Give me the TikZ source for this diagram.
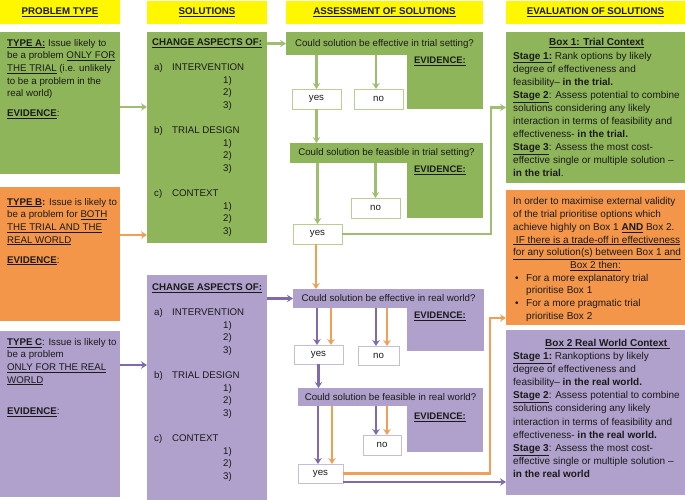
\documentclass[tikz,border=0pt]{standalone}
\usepackage{fontspec}
\setmainfont{Liberation Sans}
\usetikzlibrary{arrows.meta}
\definecolor{cgreen}{HTML}{8FB55A}
\definecolor{corange}{HTML}{F4964A}
\definecolor{cpurple}{HTML}{AFA1CB}
\definecolor{cyellow}{HTML}{FFF700}
\definecolor{garrow}{HTML}{9FBE72}
\definecolor{oarrow}{HTML}{F0A056}
\definecolor{parrow}{HTML}{7F6AAE}
\definecolor{gline}{HTML}{B7CF93}
\definecolor{pline}{HTML}{C6BCDB}
\definecolor{txt}{HTML}{1A1A1A}
\tikzset{
  box/.style={rectangle, inner sep=0pt, outer sep=0pt, anchor=north west},
  gbox/.style={box, fill=cgreen},
  obox/.style={box, fill=corange},
  pbox/.style={box, fill=cpurple},
  hbox/.style={box, fill=cyellow, font=\bfseries\fontsize{9.7}{12}\selectfont},
  qtxt/.style={font=\fontsize{9.7}{12}\selectfont},
  gans/.style={box, fill=white, draw=gline, line width=0.9pt, font=\fontsize{9.7}{12}\selectfont},
  pans/.style={box, fill=white, draw=pline, line width=0.9pt, font=\fontsize{9.7}{12}\selectfont},
  ltxt/.style={anchor=north west, align=left, inner sep=0pt, font=\fontsize{9.7}{12.6}\selectfont},
  rtxt/.style={anchor=north west, align=left, inner sep=0pt, font=\fontsize{10}{12.7}\selectfont},
  rtxtb/.style={anchor=north west, align=left, inner sep=0pt, font=\fontsize{10}{13.1}\selectfont},
  evlab/.style={inner sep=0pt, font=\bfseries\fontsize{9.5}{12}\selectfont},
  arr/.style={line width=2.2pt, -{Stealth[length=6pt,width=7.5pt,inset=2pt]}},
  garr/.style={arr, draw=garrow},
  oarr/.style={arr, draw=oarrow},
  parr/.style={arr, draw=parrow},
}
\begin{document}
\begin{tikzpicture}[x=1pt,y=-1pt, every node/.append style={text=txt}]
\useasboundingbox (0,0) rectangle (685,500);

% headers
\node[hbox, minimum width=120pt, minimum height=24pt] (hPT) at (0,0) {\underline{PROBLEM TYPE}\hspace{8pt}};
\node[hbox, minimum width=120pt, minimum height=23pt] (hSol) at (147,1) {\underline{SOLUTIONS}\hspace{6pt}};
\node[hbox, minimum width=197pt, minimum height=23pt] (hAss) at (286,1) {\underline{ASSESSMENT OF SOLUTIONS}\hspace{14pt}};
\node[hbox, minimum width=179pt, minimum height=23pt] (hEval) at (506,1) {\underline{EVALUATION OF SOLUTIONS}\hspace{14pt}};

% problem type boxes
\node[gbox, minimum width=120pt, minimum height=142pt] (typeA) at (0,32) {};
\node[obox, minimum width=120pt, minimum height=134pt] (typeB) at (0,187) {};
\node[pbox, minimum width=120pt, minimum height=166pt] (typeC) at (0,331) {};
\node[ltxt] (tA) at (7,39) {\underline{\textbf{TYPE A:}} Issue likely to\\be a problem \underline{ONLY FOR}\\\underline{THE TRIAL} (i.e. unlikely\\to be a problem in the\\real world)\\[7.5pt]\underline{\textbf{EVIDENCE}}:};
\node[ltxt] (tB) at (7,198) {\underline{\textbf{TYPE B}}\textbf{:} Issue is likely to\\be a problem for \underline{BOTH}\\\underline{THE TRIAL AND THE}\\\underline{REAL WORLD}\\[7.5pt]\underline{\textbf{EVIDENCE}}:};
\node[ltxt] (tC) at (7,338) {\underline{\textbf{TYPE C}}: Issue is likely to\\be a problem\\\underline{ONLY FOR THE REAL}\\\underline{WORLD}\\[19pt]\underline{\textbf{EVIDENCE}}:};

% solutions boxes
\node[gbox, minimum width=120pt, minimum height=211pt] (solG) at (147,32) {};
\node[pbox, minimum width=120pt, minimum height=225pt] (solP) at (147,275) {};
\node[ltxt] (tSG) at (152,38.5) {\underline{\textbf{CHANGE ASPECTS OF:}}\\[12.6pt]
\hspace*{2pt}\makebox[18pt][l]{a)}INTERVENTION\\\hspace*{71pt}1)\\\hspace*{71pt}2)\\\hspace*{71pt}3)\\[12.6pt]
\hspace*{2pt}\makebox[18pt][l]{b)}TRIAL DESIGN\\\hspace*{71pt}1)\\\hspace*{71pt}2)\\\hspace*{71pt}3)\\[12.6pt]
\hspace*{2pt}\makebox[18pt][l]{c)}CONTEXT\\\hspace*{71pt}1)\\\hspace*{71pt}2)\\\hspace*{71pt}3)};
\node[ltxt] (tSP) at (152,283.5) {\underline{\textbf{CHANGE ASPECTS OF:}}\\[12.6pt]
\hspace*{2pt}\makebox[18pt][l]{a)}INTERVENTION\\\hspace*{71pt}1)\\\hspace*{71pt}2)\\\hspace*{71pt}3)\\[12.6pt]
\hspace*{2pt}\makebox[18pt][l]{b)}TRIAL DESIGN\\\hspace*{71pt}1)\\\hspace*{71pt}2)\\\hspace*{71pt}3)\\[12.6pt]
\hspace*{2pt}\makebox[18pt][l]{c)}CONTEXT\\\hspace*{71pt}1)\\\hspace*{71pt}2)\\\hspace*{71pt}3)};

% assessment: trial
\node[gbox, minimum width=76pt, minimum height=77pt] (evT) at (407,32) {};
\node[gbox, minimum width=197pt, minimum height=23pt, qtxt] (effT) at (286,32) {Could solution be effective in trial setting?};
\node[evlab] (evTl) at (440,61) {\underline{EVIDENCE:}};
\node[gans, minimum width=49pt, minimum height=20pt] (yesT1) at (292,89) {yes};
\node[gans, minimum width=49pt, minimum height=20pt] (noT1) at (354,89) {no};
\node[gbox, minimum width=76pt, minimum height=75pt] (evT2) at (407,143) {};
\node[gbox, minimum width=193pt, minimum height=20pt, qtxt] (feaT) at (290,143) {Could solution be feasible in trial setting?};
\node[evlab] (evT2l) at (440,170) {\underline{EVIDENCE:}};
\node[gans, minimum width=49pt, minimum height=20pt] (noT2) at (351,198) {no};
\node[gans, minimum width=49pt, minimum height=20pt] (yesT2) at (293,224) {yes};

% assessment: real world
\node[pbox, minimum width=77pt, minimum height=62pt] (evR) at (407,289) {};
\node[pbox, minimum width=191pt, minimum height=19pt, qtxt] (effR) at (293,289) {Could solution be effective in real world?};
\node[evlab] (evRl) at (440,316) {\underline{EVIDENCE:}};
\node[pans, minimum width=49pt, minimum height=19pt] (yesR1) at (294,345) {yes};
\node[pans, minimum width=41pt, minimum height=19pt] (noR1) at (358,346) {no};
\node[pbox, minimum width=76pt, minimum height=64pt] (evR2) at (407,388) {};
\node[pbox, minimum width=185pt, minimum height=18pt, qtxt] (feaR) at (298,388) {Could solution be feasible in real world?};
\node[evlab] (evR2l) at (440,417) {\underline{EVIDENCE:}};
\node[pans, minimum width=38pt, minimum height=20pt] (noR2) at (363,435) {no};
\node[pans, minimum width=45pt, minimum height=19pt] (yesR2) at (298,464) {yes};

% evaluation boxes
\node[gbox, minimum width=179pt, minimum height=151pt] (box1) at (506,32) {};
\node[obox, minimum width=179pt, minimum height=135pt] (boxO) at (506,190) {};
\node[pbox, minimum width=179pt, minimum height=165pt] (box2) at (506,330) {};
\node[rtxtb] (tB1) at (513,38.5) {\hspace*{36pt}\underline{\textbf{Box 1: Trial Context}}\\
\underline{\textbf{Stage 1:}} Rank options by likely\\
degree of effectiveness and\\
feasibility-- \textbf{in the trial.}\\
\underline{\textbf{Stage 2}}: Assess potential to combine\\
solutions considering any likely\\
interaction in terms of feasibility and\\
effectiveness- \textbf{in the trial.}\\
\underline{\textbf{Stage 3}}: Assess the most cost-\\
effective single or multiple solution --\\
\textbf{in the trial}.};
\node[rtxt] (tBO) at (513,197.5) {In order to maximise external validity\\
of the trial prioritise options which\\
achieve highly on Box 1 \underline{\textbf{AND}} Box 2.\\
\underline{\ IF there is a trade-off in effectiveness}\\
\underline{for any solution(s) between Box 1 and}\\
\hspace*{57pt}\underline{Box 2 then:}\\
\hspace*{2pt}\makebox[11pt][l]{\textbullet}For a more explanatory trial\\
\hspace*{13pt}prioritise Box 1\\
\hspace*{2pt}\makebox[11pt][l]{\textbullet}For a more pragmatic trial\\
\hspace*{13pt}prioritise Box 2};
\node[rtxtb] (tB2) at (513,339) {\hspace*{32pt}\underline{\textbf{Box 2 Real World Context\ }}\\
\underline{\textbf{Stage 1:}} Rankoptions by likely\\
degree of effectiveness and\\
feasibility-- \textbf{in the real world.}\\
\underline{\textbf{Stage 2}}: Assess potential to combine\\
solutions considering any likely\\
interaction in terms of feasibility and\\
effectiveness- \textbf{in the real world.}\\
\underline{\textbf{Stage 3}}: Assess the most cost-\\
effective single or multiple solution --\\
\textbf{in the real world}};

% connectors: problem type -> solutions
\draw[garr] ([yshift=-4pt]typeA.east) -- ([yshift=-4pt]typeA.east -| solG.west);
\coordinate (bOut) at ([yshift=19pt]typeB.east);
\draw[oarr] (bOut) -- (bOut -| solG.west);
\coordinate (cOut) at ([yshift=49pt]typeC.east);
\draw[parr] (cOut) -- (cOut -| solP.west);
% solutions -> assessment
\draw[garr] (effT.west -| solG.east) -- (effT.west);
\draw[parr] (effR.west -| solP.east) -- (effR.west);

% trial assessment
\draw[garr] (yesT1.north |- effT.south) -- (yesT1.north);
\coordinate (nT1) at ([xshift=-2.5pt]noT1.north);
\draw[garr] (nT1 |- effT.south) -- (nT1);
\draw[garr] (yesT1.south) -- (yesT1.south |- feaT.north);
\draw[garr] (noT2.north |- feaT.south) -- (noT2.north);
\draw[garr] (yesT2.north |- feaT.south) -- (yesT2.north);
\draw[garr] (yesT2.east) -| ([xshift=-15pt]box1.west) -- (box1.west);
\coordinate (oT) at ([xshift=-1.5pt]yesT2.south);
\draw[oarr] (oT) -- (oT |- effR.north);

% real world assessment
\coordinate (pY1) at ([xshift=-1.5pt]yesR1.north);
\coordinate (oY1) at ([xshift=12.5pt]yesR1.north);
\draw[parr] (pY1 |- effR.south) -- (pY1);
\draw[oarr] (oY1 |- effR.south) -- (oY1);
\coordinate (pN1) at ([xshift=-2.5pt]noR1.north);
\coordinate (oN1) at ([xshift=8.5pt]noR1.north);
\draw[parr] (pN1 |- effR.south) -- (pN1);
\draw[oarr] (oN1 |- effR.south) -- (oN1);
\draw[parr] (yesR1.south) -- (yesR1.south |- feaR.north);
\coordinate (pN2) at ([xshift=-6pt]noR2.north);
\coordinate (oN2) at ([xshift=5pt]noR2.north);
\draw[parr] (pN2 |- feaR.south) -- (pN2);
\draw[oarr] (oN2 |- feaR.south) -- (oN2);
\coordinate (pY2) at ([xshift=-2.5pt]yesR2.north);
\coordinate (oY2) at ([xshift=11.5pt]yesR2.north);
\draw[parr] (pY2 |- feaR.south) -- (pY2);
\draw[oarr] (oY2 |- feaR.south) -- (oY2);

% to evaluation
\coordinate (oIn) at ([yshift=7pt]boxO.south west);
\draw[oarr] (yesR2.east) -| ([xshift=-16pt]oIn) -- (oIn);
\coordinate (pS) at ([yshift=1pt]yesR2.south east);
\draw[parr] (pS) -- (pS -| box2.west);
\end{tikzpicture}
\end{document}
